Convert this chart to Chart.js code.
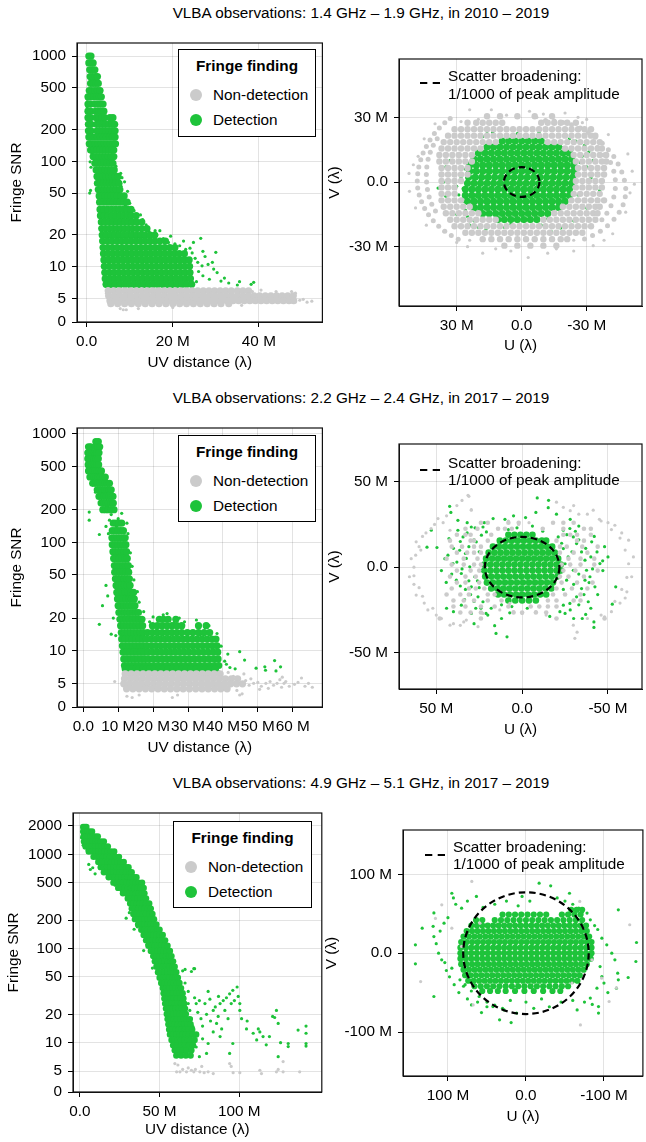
<!DOCTYPE html>
<html>
<head>
<meta charset="utf-8">
<title>VLBA fringe finding</title>
<script src="https://cdn.jsdelivr.net/npm/chart.js@4.4.1/dist/chart.umd.min.js"></script>
<style>
  html, body { margin: 0; padding: 0; background: #fff; }
  body { position: relative; width: 646px; height: 1142px; overflow: hidden;
         font-family: "Liberation Sans", Arial, Helvetica, sans-serif; color: #000; }
  canvas { position: absolute; }
  .title { position: absolute; font-size: 15.3px; line-height: 18px; white-space: nowrap; transform: translateX(-50%); }
  .box { position: absolute; box-sizing: border-box; border: 1px solid #000; background: #fff; font-size: 15.3px; }
  .box .head { position: absolute; left: 0; right: 0; text-align: center; font-weight: bold; line-height: 18px; }
  .box .row { position: absolute; line-height: 18px; white-space: nowrap; }
  .box .dot { position: absolute; width: 12px; height: 12px; border-radius: 50%; }
  .note { position: absolute; font-size: 15.3px; line-height: 17.3px; white-space: nowrap; }
  svg { position: absolute; }
</style>
</head>
<body>
<script>
// distances, U and V are in units of 1e6 wavelengths (the "M" of the tick labels)

const bandTitles = [
  "VLBA observations: 1.4 GHz – 1.9 GHz, in 2010 – 2019",
  "VLBA observations: 2.2 GHz – 2.4 GHz, in 2017 – 2019",
  "VLBA observations: 4.9 GHz – 5.1 GHz, in 2017 – 2019"
];
const seriesNames = ["Non-detection", "Detection"];
const legendTitle = "Fringe finding";
const broadeningNote = ["Scatter broadening:", "1/1000 of peak amplitude"];

const snrTicks = [0, 5, 10, 20, 50, 100, 200, 500, 1000];
const snrTicksHigh = [0, 5, 10, 20, 50, 100, 200, 500, 1000, 2000];
const distTicks1 = [0, 20, 40];
const distTicks2 = [0, 10, 20, 30, 40, 50, 60];
const distTicks3 = [0, 50, 100];
const uvTicks1 = [30, 0, -30];
const uvTicks2 = [50, 0, -50];
const uvTicks3 = [100, 0, -100];

// 1/1000-of-peak scatter broadening contour, semi-axes along U and V
const broadU = [8.2, 21.7, 80.4];
const broadV = [6.9, 17.7, 77.2];

// ---------- 1.4 - 1.9 GHz: SNR vs UV distance ----------
// rows: [SNR, uv distance, uv distance, ...]
const det1Rows = [
  [1000, 0.5, 1.0],
  [860, 0.5, 1.1, 1.5],
  [740, 0.7, 1.3, 1.9],
  [640, 0.8, 1.4, 2.0, 2.5],
  [550, 0.9, 1.5, 2.1, 2.7],
  [470, 0.6, 1.2, 1.9, 2.5, 3.1],
  [410, 0.3, 0.9, 1.6, 2.3, 2.9, 3.4],
  [350, 0.3, 0.9, 1.9, 2.6, 3.2, 3.8],
  [300, 0.3, 0.9, 2.1, 2.8, 3.4, 4.0],
  [260, 0.3, 0.9, 2.2, 2.9, 3.5, 4.2, 5.4, 6.1],
  [225, 0.4, 1.0, 2.3, 3.0, 3.7, 4.4, 5.2, 5.9, 6.5],
  [195, 0.4, 1.0, 2.4, 3.1, 3.8, 4.5, 5.2, 5.9, 6.6],
  [170, 0.5, 1.1, 1.8, 2.5, 3.2, 3.9, 4.6, 5.3, 6.0, 6.6],
  [147, 0.6, 1.3, 2.0, 2.7, 3.4, 4.1, 4.8, 5.5, 6.2, 6.7],
  [128, 0.9, 1.6, 2.3, 3.0, 3.7, 4.4, 5.1, 5.8, 6.3],
  [111, 1.5, 2.2, 2.9, 3.6, 4.3, 5.0, 5.7, 6.3],
  [96, 1.9, 2.6, 3.3, 4.0, 4.7, 5.4, 6.1],
  [83, 2.2, 2.9, 3.6, 4.3, 5.0, 5.7, 6.4],
  [72, 2.4, 3.1, 3.8, 4.5, 5.2, 5.9, 6.6, 7.3],
  [62, 2.5, 3.2, 3.9, 4.6, 5.3, 6.0, 6.7, 7.5],
  [54, 2.7, 3.4, 4.1, 4.8, 5.5, 6.2, 6.9, 7.7],
  [47, 2.9, 3.6, 4.3, 5.0, 5.7, 6.4, 7.1, 7.9, 8.7],
  [41, 3.0, 3.8, 4.6, 5.4, 6.2, 7.0, 7.8, 8.6, 9.4],
  [35, 3.1, 4.0, 4.9, 5.8, 6.7, 7.6, 8.5, 9.4, 10.3],
  [30.5, 3.2, 4.1, 5.0, 5.9, 6.8, 7.7, 8.6, 9.5, 10.4, 11.5],
  [26.5, 3.4, 4.3, 5.2, 6.1, 7.0, 7.9, 8.8, 9.7, 10.6, 11.6, 12.8],
  [23, 3.5, 4.4, 5.3, 6.2, 7.1, 8.0, 8.9, 9.8, 10.7, 11.7, 12.8, 14.0],
  [20, 3.6, 4.6, 5.6, 6.6, 7.6, 8.6, 9.6, 10.6, 11.6, 12.6, 13.6, 14.7, 15.8],
  [17.5, 3.7, 4.8, 5.9, 7.0, 8.1, 9.2, 10.3, 11.4, 12.5, 13.6, 14.7, 15.8, 17.0, 18.3],
  [15.2, 3.8, 4.9, 6.0, 7.1, 8.2, 9.3, 10.4, 11.5, 12.6, 13.7, 14.8, 15.9, 17.0, 18.1, 19.3, 20.5],
  [13.3, 3.9, 5.0, 6.1, 7.2, 8.3, 9.4, 10.5, 11.6, 12.7, 13.8, 14.9, 16.0, 17.1, 18.2, 19.3, 20.4, 21.5, 22.7],
  [11.6, 4.0, 5.1, 6.2, 7.3, 8.4, 9.5, 10.6, 11.7, 12.8, 13.9, 15.0, 16.1, 17.2, 18.3, 19.4, 20.5, 21.6, 22.7, 23.8],
  [10.1, 4.1, 5.2, 6.3, 7.4, 8.5, 9.6, 10.7, 11.8, 12.9, 14.0, 15.1, 16.2, 17.3, 18.4, 19.5, 20.6, 21.7, 22.8, 23.9],
  [8.8, 4.2, 5.3, 6.4, 7.5, 8.6, 9.7, 10.8, 11.9, 13.0, 14.1, 15.2, 16.3, 17.4, 18.5, 19.6, 20.7, 21.8, 22.9, 24.0],
  [7.7, 4.3, 5.4, 6.5, 7.6, 8.7, 9.8, 10.9, 12.0, 13.1, 14.2, 15.3, 16.4, 17.5, 18.6, 19.7, 20.8, 21.9, 23.0, 24.1],
  [6.8, 4.5, 5.6, 6.7, 7.8, 8.9, 10.0, 11.1, 12.2, 13.3, 14.4, 15.5, 16.6, 17.7, 18.8, 19.9, 21.0, 22.1, 23.2, 24.4]
];
const det1Extra = [[0.8,99],[0.9,53],[0.7,50],[0.2,230],[0.1,330],[0.15,390],[1.2,120],[1.0,88],[6.8,90],[7.9,77],
  [7.5,66],[8.0,58],[7.2,50],[8.5,45],[9.0,38],[9.8,33],[10.6,35],[11.3,28],[12.5,31],[12.2,26],[13.8,25],[14.5,21.5],
  [15.9,22],[16.3,20],[17.8,18.5],[19.0,17],[20.5,16.5],[21.6,15.8],[23.0,14.6],[24.0,15],[24.5,13.5],[25.2,12],
  [26.5,18.6],[27.5,12.5],[28.2,10.5],[29.2,11],[30.0,13.7],[29.5,9.5],[30.3,8.8],[26.0,9],[27.0,8.2],[28.5,7.6],
  [31.2,7.3],[33.0,7.0],[35.5,7.2],[35.0,6.7],[38.8,7.1],[38.2,6.8],[25.5,7.2],[26.8,10.2],[32.0,7.8],[25.8,11],
  [27,14],[24.8,17],[22.5,17.5],[19.5,19.5],[17,22],[13,28],[11,34],[10,40],[9.5,52],[8.8,64],[8.2,70]];
const non1Rows = [
  [5.9, 5.0, 6.3, 7.6, 8.9, 10.2, 11.5, 12.8, 14.1, 15.4, 16.7, 18.0, 19.3, 20.6, 21.9, 23.2, 24.5, 25.8, 27.1, 28.4, 29.7, 31.0, 32.3, 33.6, 35.0, 36.3, 37.6],
  [5.3, 5.1, 6.4, 7.7, 9.0, 10.3, 11.6, 12.9, 14.2, 15.5, 16.8, 18.1, 19.4, 20.7, 22.0, 23.3, 24.6, 25.9, 27.2, 28.5, 29.8, 31.1, 32.4, 33.7, 35.0, 36.3, 37.6, 38.9, 40.2, 41.5, 42.8, 44.1, 45.4, 46.7, 48.0],
  [4.75, 5.4, 6.7, 8.0, 9.3, 10.6, 11.9, 13.2, 14.5, 15.8, 17.1, 18.4, 19.7, 21.0, 22.3, 23.6, 24.9, 26.2, 27.5, 28.8, 30.1, 31.4, 32.7, 34.0, 35.3, 36.6, 37.9, 39.2, 40.5, 41.8, 43.1, 44.4, 45.7, 47.0, 48.1],
  [4.45, 5.6, 7.2, 8.8, 10.4, 12.0, 13.6, 15.2, 16.8, 18.4, 20.0, 21.6, 23.2, 24.8, 26.4, 28.0, 29.6, 31.2, 33.0]
];
const non1Extra = [[4.6,5.6],[4.9,6.2],[8.5,3.9],[9.2,3.9],[7.8,4.0],[38.5,5.8],[40.5,6.0],[44,5.8],[47.6,5.8],
  [48.5,5.6],[49.5,4.8],[50.3,4.9],[51.2,4.6],[52.3,4.7],[36,4.3],[12,4.0],[20,4.1]];

// ---------- 2.2 - 2.4 GHz: SNR vs UV distance ----------
const det2Rows = [
  [850, 3.6, 4.3],
  [760, 1.5, 2.1, 3.5, 4.1, 4.7],
  [670, 1.3, 1.9, 2.5, 3.2, 3.8, 4.5],
  [590, 1.3, 1.9, 2.5, 3.1, 3.7, 4.3],
  [520, 1.4, 2.0, 2.6, 3.2, 3.8, 4.4],
  [455, 1.5, 2.1, 2.7, 3.3, 3.9, 4.5, 5.2],
  [400, 1.9, 2.5, 3.1, 3.7, 4.3, 4.9, 5.6, 6.3],
  [350, 2.7, 3.4, 4.1, 4.8, 5.5, 6.2, 6.9, 7.5],
  [305, 4.0, 4.7, 5.4, 6.1, 6.8, 7.4, 8.0],
  [265, 4.5, 5.2, 5.9, 6.6, 7.3, 7.9, 8.5],
  [230, 5.1, 5.8, 6.5, 7.2, 7.9, 8.6],
  [200, 5.6, 6.4, 7.2, 8.0, 8.8],
  [150, 8.6, 9.4, 10.2, 11.0],
  [128, 8.3, 9.1, 9.9, 10.7, 11.5],
  [110, 8.2, 9.0, 9.8, 10.6, 11.4, 12.0],
  [95, 8.3, 9.1, 9.9, 10.7, 11.5, 12.2],
  [82, 8.5, 9.3, 10.1, 10.9, 11.7, 12.4],
  [71, 8.7, 9.5, 10.3, 11.1, 11.9, 12.6],
  [61, 8.9, 9.7, 10.5, 11.3, 12.1, 12.9],
  [53, 9.0, 9.8, 10.6, 11.4, 12.2, 13.0],
  [46, 9.2, 10.0, 10.8, 11.6, 12.4, 13.2],
  [40, 9.4, 10.2, 11.0, 11.8, 12.6, 13.4],
  [34.5, 9.6, 10.4, 11.2, 12.0, 12.8, 13.6, 14.4],
  [30, 9.8, 10.6, 11.4, 12.2, 13.0, 13.8, 14.6],
  [26, 10.0, 10.8, 11.6, 12.4, 13.2, 14.0, 14.8],
  [22.5, 10.2, 11.0, 11.8, 12.6, 13.4, 14.2, 15.0, 15.8],
  [19.5, 10.5, 11.4, 12.3, 13.2, 14.1, 15.0, 15.9, 16.8, 21.8, 23.0, 24.3, 26.5],
  [17, 10.7, 11.6, 12.5, 13.4, 14.3, 15.2, 16.1, 17.0, 19.8, 21.2, 22.6, 24.0, 25.4, 26.8, 28.2, 33.0, 35.2],
  [14.7, 10.9, 11.8, 12.7, 13.6, 14.5, 15.4, 16.3, 17.2, 18.4, 19.8, 21.2, 22.6, 24.0, 25.4, 26.8, 28.2, 29.8, 31.4, 33.0, 34.6, 36.2],
  [12.8, 11.0, 12.0, 13.0, 14.0, 15.0, 16.0, 17.0, 18.1, 19.4, 20.7, 22.0, 23.3, 24.6, 25.9, 27.2, 28.5, 29.8, 31.2, 32.6, 34.0, 35.4, 36.8, 38.0],
  [11.1, 11.2, 12.2, 13.2, 14.2, 15.2, 16.2, 17.2, 18.3, 19.6, 20.9, 22.2, 23.5, 24.8, 26.1, 27.4, 28.7, 30.0, 31.4, 32.8, 34.2, 35.6, 37.0, 38.3],
  [9.7, 11.4, 12.4, 13.4, 14.4, 15.4, 16.4, 17.4, 18.5, 19.8, 21.1, 22.4, 23.7, 25.0, 26.3, 27.6, 28.9, 30.2, 31.6, 33.0, 34.4, 35.8, 37.2, 38.5],
  [8.4, 11.6, 12.6, 13.6, 14.6, 15.6, 16.6, 17.6, 18.7, 20.0, 21.3, 22.6, 23.9, 25.2, 26.5, 27.8, 29.1, 30.4, 31.8, 33.2, 34.6, 36.0, 37.4, 38.6],
  [7.3, 11.8, 12.8, 13.8, 14.8, 15.8, 16.8, 17.8, 18.9, 20.2, 21.5, 22.8, 24.1, 25.4, 26.7, 28.0, 29.3, 30.6, 32.0, 33.4, 34.8, 36.2, 37.6, 38.8],
  [6.8, 12.0, 13.0, 14.0, 15.0, 16.0, 17.0, 18.0, 19.1, 20.4, 21.7, 23.0, 24.3, 25.6, 26.9, 28.2, 29.5, 30.8, 32.2, 33.6, 35.0, 36.4, 37.8]
];
const det2Extra = [[1.7,190],[1.7,160],[4.6,118],[6.5,40],[5.5,26],[4.6,17.5],[7.0,32],[6.8,215],[3.5,290],[11.0,185],
  [10.0,165],[9.5,140],[7.2,120],[8.0,180],[7.5,160],[6.5,140],[12.5,150],[12.8,120],[13.5,80],[14,60],[14.5,45],
  [15.5,35],[16,28],[17.3,22.9],[9.3,13.8],[8.6,20],[22.9,21.4],[24,22],[21.0,15.5],[29.0,18.5],[32.4,19.2],[35.0,16.6],
  [36.0,17],[38.3,14.4],[37.5,12.5],[39.5,11.0],[41.4,9.3],[44.8,9.8],[46.2,8.2],[49.5,6.9],[52.0,7.1],[52.2,6.6],
  [54.8,8.1],[56.5,7.1],[55.2,6.5],[42.0,7.0],[40.5,8.0],[38.5,6.6],[13.0,20.5],[14.5,25],[15.5,22.2],[8.0,14.2],
  [9.5,26],[27.5,20],[30.5,15],[33.5,14],[19,18.5],[20,20.5],[26,18],[41,7.5],[43.5,6.8]];
const non2Rows = [
  [6.1, 12.0, 13.7, 15.4, 17.1, 18.8, 20.5, 22.2, 23.9, 25.6, 27.3, 29.0, 30.7, 32.4, 34.1, 35.8, 37.5, 39.2],
  [5.5, 11.8, 13.5, 15.2, 16.9, 18.6, 20.3, 22.0, 23.7, 25.4, 27.1, 28.8, 30.5, 32.2, 33.9, 35.6, 37.3, 39.0, 40.7, 42.4, 44.2],
  [4.95, 11.6, 13.3, 15.0, 16.7, 18.4, 20.1, 21.8, 23.5, 25.2, 26.9, 28.6, 30.3, 32.0, 33.7, 35.4, 37.1, 38.8, 40.5, 42.2, 43.9, 45.6],
  [4.45, 12.4, 14.2, 16.0, 17.8, 19.6, 21.4, 23.2, 25.0, 26.8, 28.6, 30.4, 32.2, 34.0, 35.8, 37.6, 39.4, 41.2]
];
const non2Extra = [[9.0,5.2],[46.5,5.3],[47.5,4.8],[48.8,5.0],[50.0,5.1],[51.0,4.7],[52.3,5.0],[53.5,5.2],[54.5,4.8],
  [55.5,5.0],[56.3,5.4],[56.8,4.6],[57.5,5.0],[59.0,4.7],[60.5,4.9],[62.5,5.6],[63.5,4.7],[64.5,5.0],[65.6,4.6],
  [44.0,4.3],[45.5,4.0],[43.0,5.8],[46.0,6.1],[12.5,3.8],[14.0,3.7],[16.0,3.9],[25.5,3.7],[27.0,3.9],[44.8,3.9],
  [41.5,6.3],[48,5.5],[50.5,4.4],[53,4.5],[57,5.7],[58,5.2],[61.5,5.1],[45,5.0]];

// ---------- 4.9 - 5.1 GHz: SNR vs UV distance ----------
const det3Rows = [
  [1950, 2.0, 3.0, 4.0],
  [1750, 2.0, 3.3, 4.6, 6.0, 7.6],
  [1550, 2.2, 3.6, 5.0, 6.5, 8.0, 9.6, 11.2],
  [1370, 2.5, 4.2, 6.0, 7.8, 9.6, 11.4, 13.2, 15.0],
  [1210, 3.5, 5.5, 7.5, 9.5, 11.5, 13.5, 15.5, 17.5],
  [1070, 5.5, 7.5, 9.5, 11.5, 13.5, 15.5, 17.5, 19.5, 21.5],
  [940, 8.5, 10.5, 12.5, 14.5, 16.5, 18.5, 20.5, 22.5, 24.5],
  [830, 11.5, 13.5, 15.5, 17.5, 19.5, 21.5, 23.5, 25.5, 27.5],
  [730, 13.0, 15.0, 17.0, 19.0, 21.0, 23.0, 25.0, 27.0, 29.0, 30.5],
  [645, 15.0, 17.0, 19.0, 21.0, 23.0, 25.0, 27.0, 29.0, 31.0, 32.5],
  [570, 18.0, 20.0, 22.0, 24.0, 26.0, 28.0, 30.0, 32.0, 34.0, 35.5],
  [500, 21.0, 23.0, 25.0, 27.0, 29.0, 31.0, 33.0, 35.0, 37.0, 39.0],
  [440, 24.0, 26.0, 28.0, 30.0, 32.0, 34.0, 36.0, 38.0, 40.0],
  [385, 27.0, 29.0, 31.0, 33.0, 35.0, 37.0, 39.0, 40.5],
  [340, 30.0, 32.0, 34.0, 36.0, 38.0, 40.0, 41.5],
  [300, 31.5, 33.5, 35.5, 37.5, 39.5, 41.5, 43.5],
  [265, 32.5, 34.5, 36.5, 38.5, 40.5, 42.5, 44.5],
  [232, 33.5, 35.5, 37.5, 39.5, 41.5, 43.5, 45.5],
  [205, 34.5, 36.5, 38.5, 40.5, 42.5, 44.5, 46.5],
  [180, 36.5, 38.5, 40.5, 42.5, 44.5, 46.5, 48.0],
  [158, 38.5, 40.5, 42.5, 44.5, 46.5, 48.5, 50.0],
  [139, 40.0, 42.0, 44.0, 46.0, 48.0, 50.0, 52.0],
  [122, 41.5, 43.5, 45.5, 47.5, 49.5, 51.5, 53.5],
  [107, 43.0, 45.0, 47.0, 49.0, 51.0, 53.0, 55.0],
  [94, 44.5, 46.5, 48.5, 50.5, 52.5, 54.5, 56.5],
  [83, 46.0, 48.0, 50.0, 52.0, 54.0, 56.0, 57.5],
  [73, 47.0, 49.0, 51.0, 53.0, 55.0, 57.0, 58.5],
  [64, 48.0, 50.0, 52.0, 54.0, 56.0, 58.0, 59.5],
  [56, 49.0, 51.0, 53.0, 55.0, 57.0, 59.0, 60.5],
  [49, 50.0, 52.0, 54.0, 56.0, 58.0, 60.0, 61.5],
  [43, 51.0, 53.0, 55.0, 57.0, 59.0, 61.0, 62.5],
  [38, 52.0, 54.0, 56.0, 58.0, 60.0, 62.0, 63.5],
  [33.5, 52.5, 54.5, 56.5, 58.5, 60.5, 62.5, 64.5],
  [29.5, 53.0, 55.0, 57.0, 59.0, 61.0, 63.0, 65.0],
  [26, 53.5, 55.5, 57.5, 59.5, 61.5, 63.5, 65.5],
  [23, 54.0, 56.0, 58.0, 60.0, 62.0, 64.0, 66.0],
  [20.2, 54.5, 56.5, 58.5, 60.5, 62.5, 64.5, 66.5],
  [17.8, 55.0, 57.0, 59.0, 61.0, 63.0, 65.0, 67.0, 69.0],
  [15.7, 55.5, 57.5, 59.5, 61.5, 63.5, 65.5, 67.5, 69.5],
  [13.8, 56.0, 58.0, 60.0, 62.0, 64.0, 66.0, 68.0, 70.5],
  [12.2, 56.5, 58.5, 60.5, 62.5, 64.5, 66.5, 68.5, 71.0, 73.0],
  [10.7, 57.5, 59.5, 61.5, 63.5, 65.5, 67.5, 69.5, 72.0],
  [9.4, 58.5, 61.0, 63.5, 66.0, 68.5, 71.0],
  [8.3, 59.5, 62.0, 64.5, 67.0, 70.0],
  [7.3, 60.5, 63.5, 66.5, 69.5]
];
const det3Extra = [[1.0,1500],[2.0,1250],[4.5,1100],[5.5,780],[6.5,690],[8.0,720],[9.5,620],[22,470],[26,400],[29,210],
  [31,240],[34,160],[36,170],[38,155],[44,280],[46,230],[48,150],[40,95],[42,110],[45.5,62],[47,70],[64.5,58],[66,60],
  [70,57],[71.5,61],[66,43],[68,35],[72,30],[68,26],[69,22],[70,18],[71,14.8],[73,26],[74,21],[75,28],[76,18],[77,15],
  [78.5,26],[79.5,20],[80.5,35],[81.6,29],[83.7,22],[85.8,16],[86.8,19],[88,26],[90,28],[91,22],[92,30],[94,33],[95,26],
  [96,36],[97,28],[98.7,39],[99.4,31],[100.4,26],[100.4,22],[101.5,18],[83.7,13],[88,11.6],[80.5,9.8],[75,7.1],
  [79.5,7.7],[96,9.8],[94,7.7],[104.6,14],[108.8,12.6],[111,10.7],[115,11.6],[119,11.6],[121,19],[123.4,22],[124.5,16],
  [122.3,18.5],[130.8,9.1],[130.8,9.8],[137,13.6],[142,15],[142,12.6],[142,9.8],[142,9.2],[124.5,7.1],[72,61],[85,24],
  [87,31],[93,18],[89,14],[77,11],[73,9],[82,17],[105,17],[112,14],[117,9.5],[126,10],[113,13]];
const non3Rows = [];
const non3Extra = [[59.6,6.0],[60.7,4.9],[62.8,4.9],[64.5,5.2],[66.9,4.9],[70,5.1],[71.5,4.9],[72.5,5.2],[75.3,4.9],
  [76.5,5.6],[78,4.8],[80.5,4.9],[83.7,4.7],[94,6.0],[95,5.6],[96.2,4.8],[100.4,4.8],[113,5.1],[114,4.7],[123.4,4.9],
  [124.5,5.2],[127.6,4.9],[127.6,6.3],[138,4.9],[61.5,5.8],[68,5.4]];

// ---------- UV coverage, rows: [V, U, U, ...], tracks and extras: [U, V] ----------
const uvDet1Rows = [
  [19, 9, 6, 3, 0, -3, -6, -9],
  [16.2, 16, 13, 10, 7, 4, 1, -2, -5, -8, -11, -14, -17],
  [13.4, 20, 17, 14, 11, 8, 5, 2, -1, -4, -7, -10, -13, -16, -19, -22],
  [10.6, 22, 19, 16, 13, 10, 7, 4, 1, -2, -5, -8, -11, -14, -17, -20, -23],
  [7.8, 24, 21, 18, 15, 12, 9, 6, 3, 0, -3, -6, -9, -12, -15, -18, -21, -24],
  [5, 24, 21, 18, 15, 12, 9, 6, 3, 0, -3, -6, -9, -12, -15, -18, -21, -24],
  [2.2, 24.5, 21.5, 18.5, 15.5, 12.5, 9.5, 6.5, 3.5, 0.5, -2.5, -5.5, -8.5, -11.5, -14.5, -17.5, -20.5, -23.5],
  [-0.6, 25, 22, 19, 16, 13, 10, 7, 4, 1, -2, -5, -8, -11, -14, -17, -20, -23],
  [-3.4, 26, 23, 20, 17, 14, 11, 8, 5, 2, -1, -4, -7, -10, -13, -16, -19, -22],
  [-6.2, 26, 23, 20, 17, 14, 11, 8, 5, 2, -1, -4, -7, -10, -13, -16, -19, -22],
  [-9, 25, 22, 19, 16, 13, 10, 7, 4, 1, -2, -5, -8, -11, -14, -17, -20],
  [-11.8, 22, 19, 16, 13, 10, 7, 4, 1, -2, -5, -8, -11, -14, -17],
  [-14.6, 18, 15, 12, 9, 6, 3, 0, -3, -6, -9, -12],
  [-17.4, 11, 8, 5, 2, -1, -4, -7]
];
const uvDet1Extra = [[35,7],[38.6,-2.8],[35,-6.6],[13.4,23],[18,21],[16,22.5],[-16.7,22],[-21,18],[-34.5,6.5],[-38,3.4],
  [-13.6,-22.9],[-18,-21.3],[16.5,-22],[5,-19.5],[-5,-21],[30,-15],[-30,-12],[33,10],[-29,17],[24,-20],[-24,-18],[10,24],
  [-8,23],[2,22.5],[27,-3],[29,-6],[27,-9],[30,-11],[26,-13],[25,-16],[22,-18],[-26,16],[-28,12],[-27,9],[-30,7],[-25,19],
  [-22,20],[-31,14],[-32,2],[-28,-2],[28,2],[31,4],[26,6],[30,-2],[-26,-6],[-33,10],[20,-21],[-9,-20],[8,-21],[-36,-4],[36,0],
  [-19,16],[-21,13],[19,-15],[21,-13],[12,18],[-12,-17]];
const uvNon1Rows = [
  [30.5, 16, 10, 2, -6, -14],
  [27.5, 25, 21, 18, 15, 12, 9, -9, -12, -15, -18, -21, -25],
  [24.5, 31, 28, 25, 22, 19, 16, 13, 10, 7, 4, 1, -2, -5, -8, -11, -14, -17, -20, -23, -26, -29, -32],
  [21.5, 34, 31, 28, 25, 22, 19, 16, 13, 10, 7, 4, 1, -2, -5, -8, -11, -14, -17, -20, -23, -26, -29, -32, -34],
  [18.5, 36, 33, 30, 27, 24, 21, 18, 15, 12, -12, -15, -18, -21, -24, -27, -30, -33, -36],
  [15.5, 37, 34, 31, 28, 25, 22, 19, -20, -23, -26, -29, -32, -35, -37],
  [12.5, 38, 35, 32, 29, 26, 23, -24, -27, -30, -33, -36, -39],
  [9.5, 38, 35, 32, 29, 26, 23, -25, -28, -31, -34, -37, -39],
  [6.5, 37, 34, 31, 28, 25, -26, -29, -32, -35, -38],
  [3.5, 37, 34, 31, 28, 25, -26, -29, -32, -35, -38],
  [0.5, 37, 34, 31, 28, -25, -28, -31, -34, -37],
  [-2.5, 37, 34, 31, -25, -28, -31, -34, -37],
  [-5.5, 37, 34, 31, -24, -27, -30, -33, -36],
  [-8.5, 37, 34, 31, 28, -23, -26, -29, -32, -35, -38],
  [-11.5, 36, 33, 30, 27, 24, -19, -22, -25, -28, -31, -34, -36],
  [-14.5, 35, 32, 29, 26, 23, 20, -15, -18, -21, -24, -27, -30, -33, -35],
  [-17.5, 33, 30, 27, 24, 21, 18, 15, 12, -10, -13, -16, -19, -22, -25, -28, -31, -34],
  [-20.5, 31, 28, 25, 22, 19, 16, 13, 10, 7, 4, 1, -2, -5, -8, -11, -14, -17, -20, -23, -26, -29, -32],
  [-23.5, 26, 23, 20, 17, 14, 11, 8, 5, 2, -1, -4, -7, -10, -13, -16, -19, -22, -25, -28],
  [-26.5, 18, 14, 10, 6, 2, -2, -6, -10, -14, -18, -21],
  [-29.5, 8, 2, -4, -10, -16]
];
// baseline tracks (arcs) of the non-detections
const uvNon1Tracks = [[33,29.5],[35.5,27.5],[38,25],[40.3,22.5],[42.3,19.5],[44,16.5],[45.5,13.5],[46.6,10.3],[47.5,7],
  [48,3.8],[48.2,0.5],[48,-2.8],[47.3,-6],[46.2,-9.2],[44.8,-12.3],[43,-15.2],[40.8,-18],[38.3,-20.5],[35.5,-22.8],
  [32.5,-24.8],[29.3,-26.5],[39,20],[40.8,17],[42.2,13.8],[43.2,10.5],[43.8,7],[44,3.5],[43.9,0],[43.5,-3.5],[42.7,-7],
  [41.5,-10.3],[39.8,-13.5],[-11,28.5],[-15,28.3],[-19,27.6],[-23,26.5],[-27,25],[-30.7,23],[-34,20.7],[-37.2,18],
  [-40,15],[-42.5,11.8],[-44.5,8.3],[-46.2,4.6],[-47.4,0.8],[-48,-3],[-47.8,-6.8],[-46.8,-10.5],[-45,-14],[-42.6,-17.3],
  [-39.6,-20.3],[-36.3,-22.8],[-32.7,-24.8],[-29,-26.4],[-41,9],[-42.5,5],[-43.2,1],[-43.2,-3],[-42.5,-7],[-41.2,-11],
  [-39.3,-14.5],[-37,-17.5],[-38,12.5],[-35,16]];
const uvNon1Extra = [[52,4],[51.8,-4.3],[49,-12],[47.8,11.9],[45,20],[40,27],[24,33.5],
  [14,33.5],[-3.6,32.8],[-10,31.5],[-20,32],[-30,29],[-40,22],[-49,13],[-51,5],[-50,-5],[-48,-14],[-42,-24],[-33,-29.5],
  [-24,-32],[-12,-33],[-3,-35],[5,-32],[12,-31],[18,-33],[30,-28],[36,-23],[44,-20],[-38,-27],[20,29],[-26,30],[7,31],
  [-7,30],[25,-30],[-16,-31],[50,8],[-52,-1],[28,28],[-28,27.5],[24,-27],[-24,-27]];

const uvDet2Rows = [
  [19, 8, 4.5, 1, -2.5, -6],
  [15.5, 13, 9.5, 6, 2.5, -1, -4.5, -8, -11.5, -14],
  [12, 17, 13.5, 10, 6.5, 3, -0.5, -4, -7.5, -11, -14.5, -17.5],
  [8.5, 19.5, 16, 12.5, 9, 5.5, 2, -1.5, -5, -8.5, -12, -15.5, -19],
  [5, 21, 17.5, 14, 10.5, 7, 3.5, 0, -3.5, -7, -10.5, -14, -17.5, -21],
  [1.5, 22, 18.5, 15, 11.5, 8, 4.5, 1, -2.5, -6, -9.5, -13, -16.5, -20, -22.5],
  [-2, 22, 18.5, 15, 11.5, 8, 4.5, 1, -2.5, -6, -9.5, -13, -16.5, -20, -22.5],
  [-5.5, 21.5, 18, 14.5, 11, 7.5, 4, 0.5, -3, -6.5, -10, -13.5, -17, -20.5],
  [-9, 20.5, 17, 13.5, 10, 6.5, 3, -0.5, -4, -7.5, -11, -14.5, -18],
  [-12.5, 18, 14.5, 11, 7.5, 4, 0.5, -3, -6.5, -10, -13.5, -17],
  [-16, 14, 10.5, 7, 3.5, 0, -3.5, -7, -10.5, -14],
  [-19.5, 8, 4, 0, -4, -8]
];
const uvDet2Extra = [[37.4,21.6],[34.4,17.7],[36.4,9.9],[32.5,5.1],[30.5,0.2],[27.6,-5.6],[29.6,-11.5],[25.7,-17.3],
  [22.8,-20.2],[38.3,-7.6],[40.3,2.1],[43.2,7],[26.7,14.8],[23.7,18.7],[29.6,23.5],[22.8,23.5],[20.8,20.6],[35.4,-3.7],
  [33,-13],[25,-12],[24,-2],[25,9],[31,12],[28,-20],[24,-24],[33.5,-19],[-21,17.7],[-24,21.6],[-27.8,22.6],[-29.8,17.7],
  [-31.7,13.8],[-34.6,8.9],[-36.6,4.1],[-37.5,-1.8],[-36.6,-7.6],[-34.6,-12.5],[-31.7,-17.3],[-27.8,-21.2],[-24,-22.2],
  [-25.9,-7.6],[-29.8,-1.8],[-26.8,6],[-24,10.9],[-40.5,14.8],[-43.6,8.9],[-45.3,2.1],[-39.5,-5.6],[-42.4,-11.5],
  [-38.5,-20.2],[-24,-13],[-25,2],[-8.8,40.5],[-15.4,39.1],[-15.2,34.8],[16.9,28.4],[27.4,23],[42.6,16.7],[49.6,11.5],
  [55.4,11.7],[52.9,21.6],[44.2,-8.9],[35.4,-22.2],[29.6,-27],[16,-34.2],[15.2,-38.7],[8.8,-40.7],[7.2,-26.7],
  [-16.1,-28.8],[-37,-27.6],[-41.8,-32],[-41.8,-35.2],[-52.5,-21.6],[-54.5,-11.5],[-46.9,3.7],[42.2,35.6],[41.5,32],
  [37.4,27.4],[-8,32],[-20,31],[-28,28],[-33,24],[-42,18],[-48,12],[-50,6],[-47,-2],[-44,-16],[-40,-24],[20,-28],
  [24,-30],[28,-33],[12,-30],[-25,-27],[-30,-30],[-35,-30],[5,30],[10,28],[-2,29],[22,26],[32,26],[45,5],[47,-2],
  [40,-26],[44,-24],[36,15],[33,8],[38,3],[35,-1],[31,-8],[36,-11],[30,-16],[27,-24],[21,-27],[18,-24],[32,20],[28,16],
  [40,11],[41,-4],[26,-8],[-26,19],[-31,21],[-33,16],[-37,11],[-40,6],[-41,-1],[-39,-9],[-36,-16],[-33,-22],[-28,-25],
  [-22,-26],[-23,14],[-29,9],[-33,-4],[-30,-10],[-6,24],[3,23],[8,22],[-12,21],[-3,-24],[6,-23],[12,-22],[-10,-23]];
const uvNon2Rows = [
  [26, 24, 20, 8, 2, -18, -24, -30],
  [22.5, 33, 26, 14, 10, 6, -12, -24, -36, -40],
  [19, 38, 33, 30, 18, -24, -28, -32, -40],
  [15.5, 42, 30, 28, 20, -20, -32, -36],
  [12, 41, 35, 28, 24, -22, -26, -35, -44],
  [8.5, 38, 32, 28, 24, -22, -30, -38],
  [5, 44, 34, 26, -27, -34, -42],
  [1.5, 41, 34, 28, 24, -23, -28, -34, -42],
  [-2, 38, 30, 25, -24, -31, -44],
  [-5.5, 42, 33, 27, -22, -27, -36],
  [-9, 38, 33, 25, -23, -32, -41],
  [-12.5, 41, 31, 27, 22, -20, -29, -38],
  [-16, 44, 36, 31, 20, 16, -18, -25, -34],
  [-19.5, 40, 34, 28, 20, 12, -15, -20, -30, -34],
  [-23, 40, 33, 24, 16, 8, -5, -10, -15, -20],
  [-26.5, 36, 30, 24, 5, 0, -8, -14],
  [-30, 48, 24, -20, -48]
];
const uvNon2Tracks = [];
const uvNon2Extra = [[31.5,42],[29.6,33.3],[49,28.4],[53,22.6],[42,21.6],[61.7,14.8],[64.6,5],[65.6,-5.6],[61.7,-16.3],
  [54.9,-25],[42,-33.9],[32.5,-30.9],[25.7,-34.8],[22.8,-27],[13,-25],[7.2,-21.2],[58,18],[57,-21],[48,-30],[36,-34],
  [46,26],[44,30],[38,36],[35,39],[59,10],[63,-10],[50,-28],[-24,35],[-28,33],[-33,31],[-41.4,33.3],[-54,24.5],
  [-62,15.8],[-64.8,6],[-63.8,-5.6],[-61,-14.4],[-57,-21],[-52,-26],[-48,-29],[-29.8,-33.9],[-30.7,-41.6],[-20,-30],
  [-14,-28],[-45,28],[-50,26],[-58,20],[-60,-18],[-8,-26],[0,-27],[5,-26],[-4,26],[2,25],[8,27],[51,25],[56,20],[60,12],
  [62,7],[63,0],[63,-5],[60,-12],[58,-17],[52,-24],[47,-30],[40,-33],[34,-32],[-20,38],[-30,36],[-38,31],[-46,27],
  [-52,22],[-57,17],[-60,10],[-62,2],[-61,-6],[-58,-13],[-54,-20],[-46,-28],[-38,-30],[-32,-38],[31,41.4],[29.6,33.6]];

const uvDet3Rows = [
  [55, -58, -65, -72],
  [49, 30, 22, 14, 6, -2, -10, -18, -26, -46, -54, -62, -70],
  [42, 64, 56, 40, 32, 24, 16, 8, 0, -8, -16, -24, -32, -40, -48, -56, -64, -72],
  [35, 70, 63, 56, 49, 42, 35, 28, 21, 14, 7, 0, -7, -14, -21, -28, -35, -42, -49, -56, -63, -70, -77],
  [28, 76, 69, 62, 55, 48, 41, 34, 27, 20, 13, 6, -1, -8, -15, -22, -29, -36, -43, -50, -57, -64, -71, -78],
  [21, 80, 73, 66, 59, 52, 45, 38, 31, 24, 17, 10, 3, -4, -11, -18, -25, -32, -39, -46, -53, -60, -67, -74, -81],
  [14, 83, 76, 69, 62, 55, 48, 41, 34, 27, 20, 13, 6, -1, -8, -15, -22, -29, -36, -43, -50, -57, -64, -71, -78, -84],
  [7, 84, 77, 70, 63, 56, 49, 42, 35, 28, 21, 14, 7, 0, -7, -14, -21, -28, -35, -42, -49, -56, -63, -70, -77, -84],
  [0, 84, 77, 70, 63, 56, 49, 42, 35, 28, 21, 14, 7, 0, -7, -14, -21, -28, -35, -42, -49, -56, -63, -70, -77, -84],
  [-7, 84, 77, 70, 63, 56, 49, 42, 35, 28, 21, 14, 7, 0, -7, -14, -21, -28, -35, -42, -49, -56, -63, -70, -77, -83],
  [-14, 83, 76, 69, 62, 55, 48, 41, 34, 27, 20, 13, 6, -1, -8, -15, -22, -29, -36, -43, -50, -57, -64, -71, -78],
  [-21, 80, 73, 66, 59, 52, 45, 38, 31, 24, 17, 10, 3, -4, -11, -18, -25, -32, -39, -46, -53, -60, -67, -74],
  [-28, 78, 71, 64, 57, 50, 43, 36, 29, 22, 15, 8, 1, -6, -13, -20, -27, -34, -41, -48, -55, -62, -69],
  [-35, 74, 67, 60, 53, 46, 39, 32, 25, 18, 11, 4, -3, -10, -17, -24, -31, -38, -45, -52, -59, -66],
  [-42, 66, 58, 50, 42, 34, 26, 18, 10, 2, -6, -14, -22, -30, -38, -46, -54],
  [-48, 56, 46, 36, 26, 14, 2, -10, -22, -34, -44]
];
const uvDet3Extra = [[95,76],[93,70],[118,51],[119,34],[118,21],[112,0],[108,-8.5],[104,-12],[133,31.7],[141.7,10.6],
  [141.7,-13.5],[118,-55],[95,-19],[84.6,-33.8],[80,-42],[57,-75.3],[33.8,-84.6],[19,-88],[69.8,-65.6],[42.3,-67.7],
  [63.5,71.9],[82.5,57],[100,45],[105,38],[110,28],[115,12],[90,62],[75,66],[86,-50],[92,-40],[98,-30],[102,-22],
  [62,-62],[50,-68],[28,-72],[12,-76],[75,-58],[-16.9,88.8],[-31.7,85.4],[-55.8,76],[-67.7,57],[-78.3,50.8],
  [-82.5,42.3],[-92,30],[-97.3,19],[-103.6,10.6],[-110,0],[-114,-8.5],[-117.6,-25.4],[-118.4,-33.8],[-116,-44.4],
  [-95,-17],[-97.3,-29.6],[-91,-44.4],[-93,-67.7],[-82.5,-57],[-93,-76],[-65.6,-72],[-118.4,55],[-141.7,13.5],
  [-140.9,-10.6],[-131,-30.9],[-40,70],[-50,66],[-60,62],[-72,52],[-88,35],[-100,-38],[-105,-50],[-85,-65],[-75,-62],
  [-60,-60],[-45,-62],[0,-62],[-20,-58],[20,-60],[10,60],[-5,66],[5,72],[25,66],[40,62],[55,58],[-30,-68],[-10,-70],
  [50,-62],[40,-66],[30,-70],[60,-55],[70,-48],[78,-40]];
const uvNon3Rows = [];
const uvNon3Tracks = [];
const uvNon3Extra = [[69.4,91],[107.9,61.3],[116,44],[95,31.7],[135,-36],[-69,65.6],[-133,36],[-106.6,-61.3],
  [-116,-44],[-69.8,-91],[-59,-38],[-97,-31.7],[-84.6,-8.5],[82.5,8.5],[67.7,-65.6],[59,38]];

// ---------- drawing ----------
const FONT = '"Liberation Sans", Arial, Helvetica, sans-serif';
const FS = 15.3;
const GREEN = '#1ec33a';
const GREY = '#cbcbcb';

const rowsToPoints = rows => rows.flatMap(r => r.slice(1).map(v => [v, r[0]]));
const mLabel = v => v === 0 ? '0.0' : v + ' M';

function makeSets(s, rDet, rNon) {
  const base = {showLine: false, pointBorderWidth: 0, pointHoverRadius: 0, clip: 0};
  return [
    {...base, label: seriesNames[0], data: rowsToPoints(s.nonRows), pointRadius: rNon || rDet, pointBackgroundColor: GREY},
    {...base, label: seriesNames[0], data: s.nonTracks || [], pointRadius: 2.5, pointBackgroundColor: GREY},
    {...base, label: seriesNames[0], data: s.nonExtra, pointRadius: 1.6, pointBackgroundColor: GREY},
    {...base, label: seriesNames[1], data: rowsToPoints(s.detRows), pointRadius: rDet, pointBackgroundColor: GREEN},
    {...base, label: seriesNames[1], data: s.detExtra, pointRadius: 1.6, pointBackgroundColor: GREEN}
  ];
}

const framePlugin = {
  id: 'frame',
  afterDatasetsDraw(chart) {
    const a = chart.chartArea, ctx = chart.ctx;
    ctx.save();
    ctx.strokeStyle = '#111';
    ctx.lineWidth = 1.2;
    ctx.strokeRect(a.left, a.top, a.right - a.left, a.bottom - a.top);
    ctx.restore();
  }
};

function panel(o) {
  const [cl, ct, cw, ch] = o.box;
  const [fl, ft, fr, fb] = o.frame;
  const cv = document.createElement('canvas');
  cv.width = cw; cv.height = ch;
  Object.assign(cv.style, {left: cl + 'px', top: ct + 'px', width: cw + 'px', height: ch + 'px'});
  document.body.appendChild(cv);

  const font = {family: FONT, size: FS};
  const grid = () => ({color: 'rgba(0,0,0,0.11)', lineWidth: 1, tickColor: '#000', tickLength: 5, tickWidth: 1});
  const border = () => ({color: '#111', width: 1});
  const plugins = [];
  if (o.ell) {
    plugins.push({
      id: 'broadening',
      afterDatasetsDraw(chart) {
        const {ctx, scales: {x, y}} = chart;
        const cx = x.getPixelForValue(0), cy = y.getPixelForValue(0);
        const rx = Math.abs(x.getPixelForValue(o.ell[0]) - cx);
        const ry = Math.abs(y.getPixelForValue(o.ell[1]) - cy);
        ctx.save();
        ctx.beginPath();
        ctx.setLineDash([6.5, 4]);
        ctx.lineWidth = 2.2;
        ctx.strokeStyle = '#000';
        ctx.ellipse(cx, cy, rx, ry, 0, 0, Math.PI * 2);
        ctx.stroke();
        ctx.restore();
      }
    });
  }
  plugins.push(framePlugin);

  new Chart(cv, {
    type: 'scatter',
    data: {datasets: o.sets},
    options: {
      responsive: false,
      animation: false,
      events: [],
      layout: {padding: {left: 0, top: ft - ct, right: cl + cw - fr, bottom: 0}},
      plugins: {legend: {display: false}, tooltip: {enabled: false}},
      scales: {
        x: {
          type: 'linear', min: o.x[0], max: o.x[1], reverse: !!o.rev, bounds: 'data',
          afterFit: s => { s.height = ct + ch - fb; },
          afterBuildTicks: s => { s.ticks = o.xt.map(v => ({value: v})); },
          ticks: {autoSkip: false, maxRotation: 0, padding: 5.2, color: '#000', font,
                  callback: (v, i) => mLabel(o.xt[i])},
          grid: grid(), border: border(),
          title: {display: true, text: o.xTitle, color: '#000', font, padding: {top: 0, bottom: o.xtp}}
        },
        y: {
          type: o.log ? 'logarithmic' : 'linear', min: o.y[0], max: o.y[1], bounds: 'data',
          afterFit: s => { s.width = fl - cl; },
          afterBuildTicks: s => { s.ticks = o.yt.map(v => ({value: (o.log && v === 0) ? o.y[0] : v})); },
          ticks: {autoSkip: false, padding: 6, color: '#000', font,
                  callback: (v, i) => o.log ? String(o.yt[i]) : mLabel(o.yt[i])},
          grid: grid(), border: border(),
          title: {display: true, text: o.yTitle, color: '#000', font, padding: {top: o.ytp, bottom: 0}}
        }
      }
    },
    plugins
  });
}

const snrX = 'UV distance (λ)', snrY = 'Fringe SNR';

panel({box: [0, 27, 326, 345], frame: [77, 43, 323, 322], log: true, x: [-2.25, 54.76], y: [2.984, 1331],
  xt: distTicks1, yt: snrTicks, xTitle: snrX, yTitle: snrY, xtp: 0.1, ytp: 7.8,
  sets: makeSets({nonRows: non1Rows, nonExtra: non1Extra, detRows: det1Rows, detExtra: det1Extra}, 3.6)});
panel({box: [324, 43, 322, 313], frame: [399, 59, 642, 306], rev: true, x: [-55.52, 56.63], y: [-57.49, 57.03],
  xt: uvTicks1, yt: uvTicks1, xTitle: 'U (λ)', yTitle: 'V (λ)', xtp: 0.8, ytp: 1.8, ell: [broadU[0], broadV[0]],
  sets: makeSets({nonRows: uvNon1Rows, nonTracks: uvNon1Tracks, nonExtra: uvNon1Extra,
                  detRows: uvDet1Rows, detExtra: uvDet1Extra}, 3.6, 3.2)});

panel({box: [0, 412, 326, 345], frame: [77, 428, 323, 707], log: true, x: [-1.8, 68.49], y: [3.024, 1133],
  xt: distTicks2, yt: snrTicks, xTitle: snrX, yTitle: snrY, xtp: 0.1, ytp: 7.8,
  sets: makeSets({nonRows: non2Rows, nonExtra: non2Extra, detRows: det2Rows, detExtra: det2Extra}, 3.6)});
panel({box: [324, 428, 322, 311], frame: [399, 444, 642, 689], rev: true, x: [-69.8, 71.7], y: [-71.2, 72.0],
  xt: uvTicks2, yt: uvTicks2, xTitle: 'U (λ)', yTitle: 'V (λ)', xtp: 0, ytp: 1.8, ell: [broadU[1], broadV[1]],
  sets: makeSets({nonRows: uvNon2Rows, nonTracks: uvNon2Tracks, nonExtra: uvNon2Extra,
                  detRows: uvDet2Rows, detExtra: uvDet2Extra}, 3.3, 2.3)});

panel({box: [0, 797, 325, 345], frame: [73, 813, 322, 1092], log: true, x: [-4.39, 151.9], y: [2.996, 2744],
  xt: distTicks3, yt: snrTicksHigh, xTitle: snrX, yTitle: snrY, xtp: 3.5, ytp: 4.8,
  sets: makeSets({nonRows: non3Rows, nonExtra: non3Extra, detRows: det3Rows, detExtra: det3Extra}, 3.2)});
panel({box: [320, 814, 326, 312], frame: [403, 830, 645, 1076], rev: true, x: [-149.9, 157.6], y: [-155.8, 156.2],
  xt: uvTicks3, yt: uvTicks3, xTitle: 'U (λ)', yTitle: 'V (λ)', xtp: 0, ytp: 2.5, ell: [broadU[2], broadV[2]],
  sets: makeSets({nonRows: uvNon3Rows, nonTracks: uvNon3Tracks, nonExtra: uvNon3Extra,
                  detRows: uvDet3Rows, detExtra: uvDet3Extra}, 3.1)});

// titles
[4.3, 389.3, 774.3].forEach((top, i) => {
  const d = document.createElement('div');
  d.className = 'title';
  d.style.left = '361px';
  d.style.top = top + 'px';
  d.textContent = bandTitles[i];
  document.body.appendChild(d);
});

// "Fringe finding" legends
[[178, 49, 138, 88], [178, 435, 138, 87], [173, 821, 139, 87]].forEach(([l, t, w, h]) => {
  const box = document.createElement('div');
  box.className = 'box';
  Object.assign(box.style, {left: l + 'px', top: t + 'px', width: w + 'px', height: h + 'px'});
  let html = '<div class="head" style="top:6.7px">' + legendTitle + '</div>';
  seriesNames.forEach((n, i) => {
    html += '<span class="dot" style="left:10.5px;top:' + (39.3 + 25 * i) + 'px;background:' + [GREY, GREEN][i] + '"></span>';
    html += '<div class="row" style="left:34px;top:' + (36.3 + 25 * i) + 'px">' + n + '</div>';
  });
  box.innerHTML = html;
  document.body.appendChild(box);
});

// scatter broadening notes
[[448, 67.4, 420, 83.3], [448, 453.7, 420, 470], [453, 838, 425, 855]].forEach(([l, t, dx, dy]) => {
  const d = document.createElement('div');
  d.className = 'note';
  d.style.left = l + 'px';
  d.style.top = t + 'px';
  d.innerHTML = broadeningNote.join('<br>');
  document.body.appendChild(d);
  const ns = 'http://www.w3.org/2000/svg';
  const svg = document.createElementNS(ns, 'svg');
  svg.setAttribute('width', '20');
  svg.setAttribute('height', '4');
  svg.style.left = dx + 'px';
  svg.style.top = (dy - 2) + 'px';
  const line = document.createElementNS(ns, 'line');
  line.setAttribute('x1', '0'); line.setAttribute('y1', '2');
  line.setAttribute('x2', '20'); line.setAttribute('y2', '2');
  line.setAttribute('stroke', '#000');
  line.setAttribute('stroke-width', '2.2');
  line.setAttribute('stroke-dasharray', '7.3 5.4');
  svg.appendChild(line);
  document.body.appendChild(svg);
});
</script>
</body>
</html>
